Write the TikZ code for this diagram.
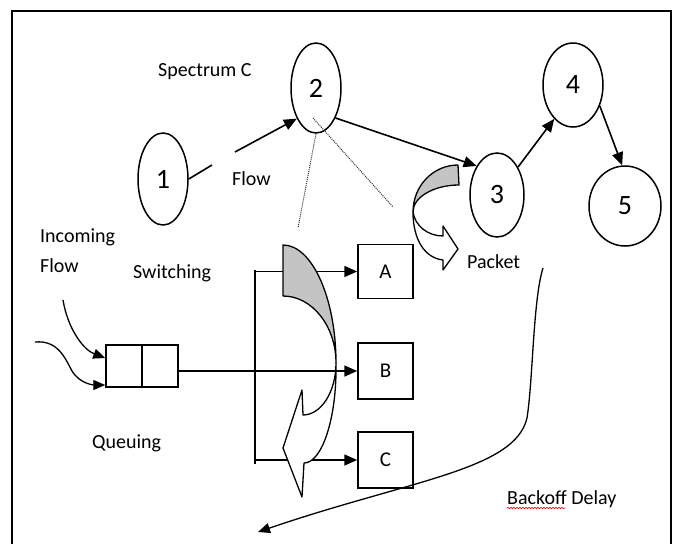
\documentclass[tikz,border=0pt]{standalone}
\usepackage{fontspec}
\setmainfont{Carlito}
\usetikzlibrary{shapes.geometric,arrows.meta,calc,decorations.pathmorphing}
\newcommand\labfont{\fontsize{20}{24}\selectfont}
\newcommand\digfont{\fontsize{28}{32}\selectfont}
\newcommand\boxfont{\fontsize{21}{25}\selectfont}
\definecolor{bandgray}{RGB}{196,196,196}
\begin{document}
\begin{tikzpicture}[x=1pt,y=-1pt,
  circ/.style={ellipse, draw, line width=1.5pt, inner sep=0pt, font=\digfont},
  bx/.style={rectangle, draw, line width=1.5pt, minimum width=55pt, minimum height=55pt, inner sep=0pt, font=\boxfont},
  lab/.style={anchor=base west, inner sep=0pt, font=\labfont},
  arr/.style={-{Triangle[length=13pt,width=11pt]}, line width=1.6pt},
  thin arr/.style={-{Triangle[length=12pt,width=10pt]}, line width=1.3pt},
  dots/.style={densely dotted, line width=1pt, black!80},
  band/.style={draw, line width=1.3pt, line join=round}]
\useasboundingbox (0,0) rectangle (673,544);
\fill[white] (0,0) rectangle (673,544);
% frame
\draw[line width=2pt] (12,544) -- (12,11) -- (671,11) -- (671,544);

% graph nodes
\node[circ, minimum width=50pt, minimum height=92pt] (n1) at (163,179) {1};
\node[circ, minimum width=50pt, minimum height=90pt] (n2) at (316,88) {2};
\node[circ, minimum width=54pt, minimum height=84pt] (n3) at (497,195) {3};
\node[circ, minimum width=60pt, minimum height=84pt] (n4) at (573,85) {4};
\node[circ, minimum width=72pt, minimum height=80pt] (n5) at (625,206) {5};

% labels
\node[lab] (tspec) at (158,76) {Spectrum C};
\node[lab] (tflow) at (232,185) {Flow};
\node[lab] (tinc) at (40,242) {Incoming};
\node[lab] (tincf) at (40,272) {Flow};
\node[lab] (tsw) at (133,278) {Switching};
\node[lab] (tq) at (92,448) {Queuing};
\node[lab] (tpk) at (467,268) {Packet};
\node[lab] (tbd) at (507,504) {Backoff Delay};
\draw[red, line width=0.6pt, decorate, decoration={snake, amplitude=0.8pt, segment length=3pt}] (507,508) -- (565,508);

% graph edges
\coordinate (f1) at (212,165);
\coordinate (f2) at (235,152);
\draw[line width=1.6pt] (n1.east) -- (f1);
\draw[arr] (f2) -- (n2.238);
\draw[arr] (n2.303) -- (n3.125);
\draw[arr] (n3.53) -- (n4.241);
\draw[arr] (n4.322) -- (n5.94);

% dotted lines from node 2
\coordinate (d0) at (313,118);
\coordinate (d1) at (298,228);
\coordinate (d2) at (393,207);
\draw[dots] (n2.south) -- (d1);
\draw[dots] (d0) -- (d2);

% queue
\node[rectangle, draw, line width=1.5pt, minimum width=72pt, minimum height=42pt, inner sep=0pt] (q) at (142,366) {};
\draw[line width=1.5pt] (q.north) -- (q.south);

% output boxes
\node[bx, minimum height=54pt] (A) at (385.5,271.5) {A};
\node[bx, minimum height=56pt] (B) at (385.5,371) {B};
\node[bx, minimum height=56pt] (C) at (385.5,460) {C};

% switching bracket
\coordinate (br) at (255,0);
\draw[line width=1.4pt] ([yshift=2pt]br |- A.west) -- ([yshift=-4pt]br |- C.west);
\draw[arr] (br |- A.west) -- (A.west);
\draw[arr] (br |- C.west) -- (C.west);
\draw[arr] (q.east |- B.west) -- (B.west);

% incoming flow arrows
\coordinate (i1) at (63,300);
\coordinate (i2) at (35,342);
\draw[thin arr] (i1) .. controls (68,330) and (84,350) .. ([yshift=8pt]q.west);
\draw[thin arr] (i2) .. controls (58,340) and (65,358) .. (72,371) .. controls (80,384) and (94,385) .. ([yshift=-19pt]q.west);

% switching curved arrow
\draw[band, fill=bandgray] (283,245) .. controls (312,245) and (336,298) .. (336,363)
  .. controls (336,326) and (312,296) .. (283,296) -- cycle;
\draw[band, fill=white] (336,363) .. controls (336,392) and (321,415) .. (303,415)
  -- (302,390) -- (283,448) -- (302,497) -- (304,463)
  .. controls (322,463) and (337,418) .. (336,363) -- cycle;

% packet curved arrow
\draw[band, fill=bandgray] (458,165) .. controls (433,165) and (413,186) .. (413,212)
  .. controls (413,197) and (434,185) .. (459,185) -- cycle;
\draw[band, fill=white] (413,212) .. controls (415,226) and (428,236) .. (443,236)
  -- (443,226) -- (458,249) -- (443,270) -- (443,260)
  .. controls (425,258) and (413,240) .. (413,212) -- cycle;

% backoff delay curve
\coordinate (b0) at (543,268);
\coordinate (b1) at (258,532);
\draw[thin arr] (b0) .. controls (533,300) and (533,380) .. (527,418)
  .. controls (515,470) and (410,480) .. (b1);
\end{tikzpicture}
\end{document}
